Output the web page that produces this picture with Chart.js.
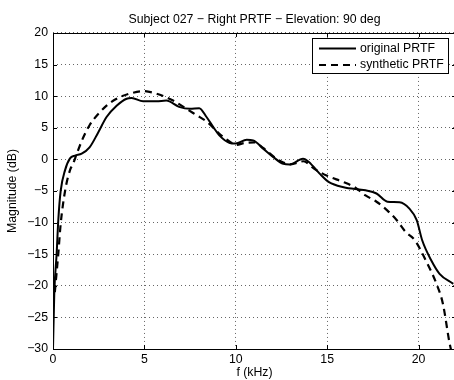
<!DOCTYPE html>
<html>
<head>
<meta charset="utf-8">
<title>Subject 027 - Right PRTF</title>
<script src="https://cdn.jsdelivr.net/npm/chart.js@4.4.0/dist/chart.umd.min.js"></script>
<style>
  html, body { margin: 0; padding: 0; background: #fff; overflow: hidden; }
  canvas { display: block; }
</style>
</head>
<body>
<canvas id="prtfChart" width="460" height="380"></canvas>
<script>
// tick labels
const xTicks = [0, 5, 10, 15, 20];
const yTicks = [-30, -25, -20, -15, -10, -5, 0, 5, 10, 15, 20];

// original PRTF (kHz / dB)
const origFreq = [0, 0.07, 0.2, 0.29, 0.42, 0.66, 0.93, 1.2, 1.57, 2.0, 2.48, 2.93, 3.48, 4.03, 4.3, 4.93,
  5.66, 6.2, 6.9, 7.5, 8.0, 8.4, 8.77, 9.1, 9.67, 10.0, 10.6, 10.95, 11.5, 12.04, 12.6, 12.95, 13.68, 14.0,
  14.6, 15.1, 15.9, 17.1, 17.7, 18.3, 18.96, 19.5, 19.9, 20.2, 20.7, 21.15, 21.9];
const origMag = [-30, -21.2, -14.9, -9.6, -5, -1.7, 0.15, 0.6, 0.9, 1.9, 4.3, 6.7, 8.5, 9.6, 9.7, 9.2,
  9.2, 9.3, 8.3, 8.0, 8.1, 6.7, 5.1, 3.8, 2.6, 2.5, 3.1, 3.0, 1.7, 0.4, -0.7, -0.8, 0.1, -0.4,
  -2.3, -3.6, -4.4, -4.9, -5.4, -6.7, -6.8, -7.8, -9.6, -12.8, -16, -18.1, -19.7];

// synthetic PRTF
const synthFreq = [0.1, 0.29, 0.42, 0.66, 0.93, 1.1, 1.3, 1.66, 2.0, 2.48, 2.93, 3.48, 4.2, 4.93, 5.66,
  6.57, 7.3, 7.85, 8.4, 8.77, 9.2, 9.67, 10.0, 10.5, 11.0, 11.5, 12.04, 12.6, 13.0, 13.7, 14.3, 15.0,
  15.9, 16.5, 17.1, 17.7, 18.3, 18.8, 19.3, 19.8, 20.4, 20.97, 21.33, 21.7, 21.85];
const synthMag = [-21, -14.9, -10.2, -5, -1.7, -0.7, 0.9, 3.5, 5.4, 7.2, 8.5, 9.6, 10.4, 10.8, 10.4,
  9.3, 8.0, 7.0, 6.0, 5.0, 3.8, 2.8, 2.3, 2.6, 2.7, 1.8, 0.5, -0.5, -0.8, -0.3, -1.5, -2.6,
  -3.6, -4.4, -5.7, -6.7, -8.1, -9.6, -11.5, -12.8, -16, -19.6, -22.8, -29.1, -31];

const FONT = "'Liberation Sans', Arial, Helvetica, sans-serif";
const FSIZE = 12.3;

const toPoints = (xs, ys) => xs.map((x, i) => ({ x, y: ys[i] }));

// frame with inward ticks (matlab style)
const frameTicks = {
  id: "frameTicks",
  afterDatasetsDraw(chart) {
    const { ctx, chartArea: a, scales: { x, y } } = chart;
    ctx.save();
    ctx.strokeStyle = "#000";
    ctx.lineWidth = 1;
    ctx.setLineDash([]);
    ctx.beginPath();
    ctx.rect(Math.round(a.left) + 0.5, Math.round(a.top) + 0.5,
      Math.round(a.right - a.left), Math.round(a.bottom - a.top));
    xTicks.forEach(v => {
      const px = Math.round(x.getPixelForValue(v)) + 0.5;
      ctx.moveTo(px, a.bottom); ctx.lineTo(px, a.bottom - 4);
      ctx.moveTo(px, a.top); ctx.lineTo(px, a.top + 4);
    });
    yTicks.forEach(v => {
      const py = Math.round(y.getPixelForValue(v)) + 0.5;
      ctx.moveTo(a.left, py); ctx.lineTo(a.left + 4, py);
      ctx.moveTo(a.right, py); ctx.lineTo(a.right - 4, py);
    });
    ctx.stroke();
    ctx.restore();
  }
};

// legend box in the upper right corner
const boxLegend = {
  id: "boxLegend",
  afterDraw(chart) {
    const { ctx } = chart;
    const left = 312, top = 38, right = 448, bottom = 73;
    ctx.save();
    ctx.fillStyle = "#fff";
    ctx.fillRect(left, top, right - left, bottom - top);
    ctx.strokeStyle = "#000";
    ctx.lineWidth = 1;
    ctx.setLineDash([]);
    ctx.strokeRect(left + 0.5, top + 0.5, right - left, bottom - top);
    ctx.font = FSIZE + "px " + FONT;
    ctx.textBaseline = "middle";
    ctx.fillStyle = "#000";
    chart.data.datasets.forEach((ds, i) => {
      const yy = 48.5 + i * 16.5;
      ctx.beginPath();
      ctx.lineWidth = ds.borderWidth;
      ctx.setLineDash(ds.borderDash || []);
      ctx.moveTo(319, yy);
      ctx.lineTo(356, yy);
      ctx.stroke();
      ctx.fillText(ds.label, 360, yy);
    });
    ctx.restore();
  }
};

const ctx = document.getElementById("prtfChart").getContext("2d");
new Chart(ctx, {
  type: "line",
  data: {
    datasets: [
      {
        label: "original PRTF",
        data: toPoints(origFreq, origMag),
        borderColor: "#000",
        borderWidth: 2,
        pointRadius: 0,
        fill: false,
        cubicInterpolationMode: "monotone"
      },
      {
        label: "synthetic PRTF",
        data: toPoints(synthFreq, synthMag),
        borderColor: "#000",
        borderWidth: 2.2,
        borderDash: [7, 5],
        pointRadius: 0,
        fill: false,
        cubicInterpolationMode: "monotone"
      }
    ]
  },
  options: {
    responsive: false,
    animation: false,
    devicePixelRatio: 1,
    layout: { padding: { left: 0, right: 4, top: 0, bottom: 0 } },
    scales: {
      x: {
        type: "linear",
        min: 0,
        max: 22.05,
        afterBuildTicks: s => { s.ticks = xTicks.map(v => ({ value: v })); },
        afterFit: s => { s.height = 31; },
        ticks: { color: "#000", font: { family: FONT, size: FSIZE }, padding: 3, maxRotation: 0 },
        grid: { color: "rgba(0,0,0,0.6)", lineWidth: 1, drawTicks: false },
        border: { display: false, dash: [1, 3] },
        title: { display: true, text: "f (kHz)", color: "#000", font: { family: FONT, size: FSIZE }, padding: { top: 0, bottom: 0 } }
      },
      y: {
        type: "linear",
        min: -30,
        max: 20,
        afterBuildTicks: s => { s.ticks = yTicks.map(v => ({ value: v })); },
        afterFit: s => { s.width = 53; },
        ticks: {
          color: "#000",
          font: { family: FONT, size: FSIZE },
          padding: 5,
          callback: v => String(v).replace("-", "\u2212")
        },
        grid: { color: "rgba(0,0,0,0.6)", lineWidth: 1, drawTicks: false },
        border: { display: false, dash: [1, 3] },
        title: { display: true, text: "Magnitude (dB)", color: "#000", font: { family: FONT, size: FSIZE }, padding: { top: 5.5, bottom: 0 } }
      }
    },
    plugins: {
      legend: { display: false },
      tooltip: { enabled: false },
      title: {
        display: true,
        fullSize: false,
        text: "Subject 027 \u2212 Right PRTF \u2212 Elevation: 90 deg",
        color: "#000",
        font: { family: FONT, size: FSIZE, weight: "normal" },
        padding: { top: 12, bottom: 6.2 }
      }
    }
  },
  plugins: [frameTicks, boxLegend]
});
</script>
</body>
</html>
